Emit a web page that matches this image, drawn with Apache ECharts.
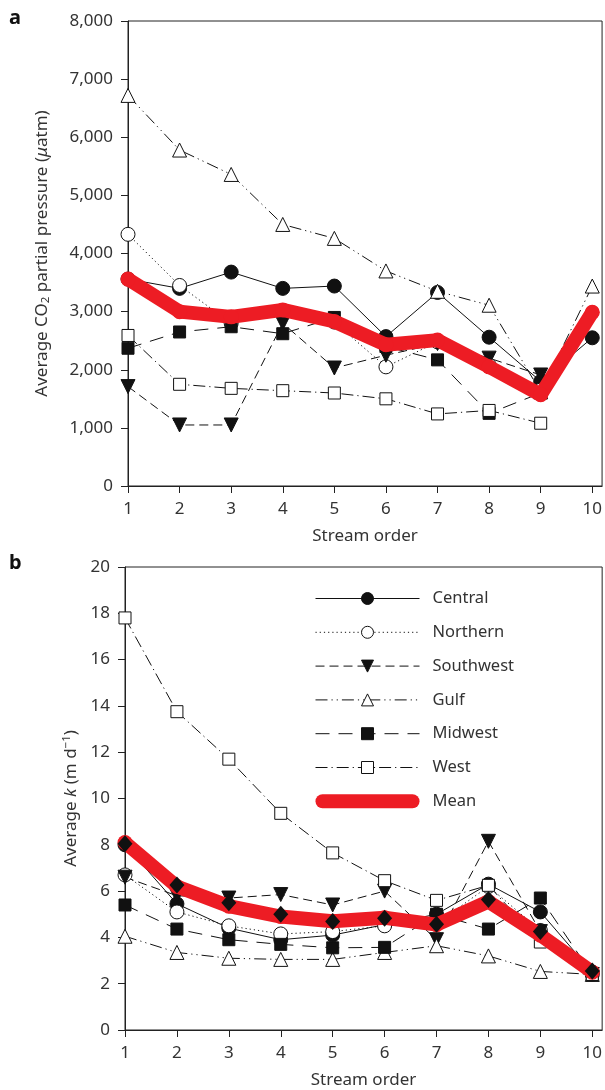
<!DOCTYPE html>
<html>
<head>
<meta charset="utf-8">
<script src="https://cdn.jsdelivr.net/npm/echarts@6/dist/echarts.min.js"></script>
<style>
html,body{margin:0;padding:0;background:#fff;}
#chart{width:605px;height:1090px;}
</style>
</head>
<body>
<div id="chart"></div>
<script>
// Stream orders (x categories)
const orders = [1, 2, 3, 4, 5, 6, 7, 8, 9, 10];
const regionNames = ['Central', 'Northern', 'Southwest', 'Gulf', 'Midwest', 'West'];

// Panel a: average CO2 partial pressure (µatm)
const co2Central   = [3560, 3400, 3680, 3400, 3440, 2570, 3330, 2560, 1800, 2550];
const co2Northern  = [4330, 3450, 2800, 2980, 2820, 2050, 2480, 2080, 1650, null];
const co2Southwest = [1710, 1050, 1050, 2800, 2030, 2250, 2450, 2200, 1910, null];
const co2Gulf      = [6720, 5780, 5360, 4500, 4260, 3700, 3350, 3110, 1620, 3440];
const co2Midwest   = [2370, 2650, 2740, 2620, 2900, 2400, 2170, 1250, 1600, null];
const co2West      = [2590, 1750, 1680, 1640, 1600, 1500, 1240, 1300, 1080, null];
const co2Mean      = [3560, 3000, 2910, 3030, 2830, 2430, 2510, 2050, 1570, 2990];
const co2Ticks     = [0, 1000, 2000, 3000, 4000, 5000, 6000, 7000, 8000];

// Panel b: average gas transfer velocity k (m d-1)
const kCentral   = [8.0, 5.45, 4.4, 3.9, 4.1, 4.55, 5.0, 6.3, 5.1, 2.5];
const kNorthern  = [6.7, 5.1, 4.5, 4.15, 4.25, 4.5, 4.6, 6.2, 4.3, 2.4];
const kSouthwest = [6.6, 5.8, 5.7, 5.85, 5.4, 6.0, 3.9, 8.15, 4.25, 2.4];
const kGulf      = [4.05, 3.35, 3.1, 3.05, 3.05, 3.35, 3.64, 3.2, 2.53, 2.4];
const kMidwest   = [5.4, 4.36, 3.9, 3.7, 3.55, 3.57, 5.0, 4.36, 5.7, 2.4];
const kWest      = [17.8, 13.75, 11.7, 9.36, 7.65, 6.45, 5.6, 6.25, 3.8, 2.4];
const kMean      = [8.1, 6.2, 5.35, 4.9, 4.7, 4.85, 4.55, 5.55, 4.1, 2.5];
const kDiamond   = [8.05, 6.26, 5.5, 5.0, 4.69, 4.83, 4.57, 5.64, 4.26, 2.55];
const kTicks     = [0, 2, 4, 6, 8, 10, 12, 14, 16, 18, 20];

const FONT = 'Noto Sans';
const TXT = '#333';
const AX = '#222';
const RED = '#ed1c24';

const styles = {
  Central:   {symbol: 'circle',   rotate: 0,   size: 14, fill: '#111', dash: 'solid'},
  Northern:  {symbol: 'circle',   rotate: 0,   size: 14, fill: '#fff', dash: [1.2, 3]},
  Southwest: {symbol: 'triangle', rotate: 180, size: 14, fill: '#111', dash: [9, 5]},
  Gulf:      {symbol: 'triangle', rotate: 0,   size: 14, fill: '#fff', dash: [12, 4, 1.2, 4, 1.2, 4]},
  Midwest:   {symbol: 'rect',     rotate: 0,   size: 12, fill: '#111', dash: [14, 9]},
  West:      {symbol: 'rect',     rotate: 0,   size: 12, fill: '#fff', dash: [12, 4, 1.2, 4]}
};

function pairs(vals) { return orders.map((o, i) => [o, vals[i]]); }

function regionSeries(name, vals, idx) {
  const s = styles[name];
  return {
    name: name, type: 'line', xAxisIndex: idx, yAxisIndex: idx,
    data: pairs(vals), connectNulls: false, clip: false,
    symbol: s.symbol, symbolRotate: s.rotate, symbolSize: s.size,
    showAllSymbol: true,
    lineStyle: {color: '#111', width: 1, type: s.dash},
    itemStyle: {color: s.fill, borderColor: '#111', borderWidth: 1},
    emphasis: {disabled: true}, z: 2
  };
}

function meanSeries(vals, idx) {
  return {
    name: 'Mean', type: 'line', xAxisIndex: idx, yAxisIndex: idx,
    data: pairs(vals), clip: false,
    symbol: 'circle', symbolSize: 15, showSymbol: true, showAllSymbol: true,
    lineStyle: {color: RED, width: 14, cap: 'round', join: 'round'},
    itemStyle: {color: RED, borderWidth: 0},
    emphasis: {disabled: true}, z: 3
  };
}

const panelA = [co2Central, co2Northern, co2Southwest, co2Gulf, co2Midwest, co2West];
const panelB = [kCentral, kNorthern, kSouthwest, kGulf, kMidwest, kWest];

const series = [];
regionNames.forEach((n, i) => series.push(regionSeries(n, panelA[i], 0)));
series.push(meanSeries(co2Mean, 0));
regionNames.forEach((n, i) => series.push(regionSeries(n, panelB[i], 1)));
series.push(meanSeries(kMean, 1));
series.push({
  name: 'k points', type: 'line', xAxisIndex: 1, yAxisIndex: 1,
  data: pairs(kDiamond), lineStyle: {width: 0, opacity: 0}, clip: false,
  symbol: 'diamond', symbolSize: [15, 17],
  itemStyle: {color: '#111'}, emphasis: {disabled: true}, z: 4
});

function xAxis(idx) {
  return {
    type: 'value', gridIndex: idx, min: 1, max: 10.19,
    name: 'Stream order', nameLocation: 'middle', nameGap: 42,
    nameTextStyle: {fontFamily: FONT, fontSize: 17, color: TXT},
    axisLine: {show: true, lineStyle: {color: AX, width: 1}},
    axisTick: {show: true, inside: false, length: 7, customValues: orders, lineStyle: {color: AX}},
    axisLabel: {customValues: orders, margin: 15, fontFamily: FONT, fontSize: 17, color: TXT},
    splitLine: {show: false}
  };
}

const option = {
  animation: false,
  backgroundColor: '#fff',
  textStyle: {fontFamily: FONT},
  grid: [
    {left: 128, right: 2, top: 21, height: 465, show: true, borderColor: AX, borderWidth: 1},
    {left: 125, right: 2, top: 567, height: 466, show: true, borderColor: AX, borderWidth: 1}
  ],
  xAxis: [xAxis(0), xAxis(1)],
  yAxis: [
    {
      type: 'value', gridIndex: 0, min: 0, max: 8000, interval: 1000,
      name: 'Average CO{sub|2} partial pressure ({it|μ}atm)', nameLocation: 'middle', nameGap: 76,
      nameTextStyle: {fontFamily: FONT, fontSize: 17, color: TXT,
        rich: {sub: {fontFamily: FONT, fontSize: 11.5, color: TXT, padding: [8, 0, 0, 0]},
               it: {fontFamily: FONT, fontSize: 17, color: TXT, fontStyle: 'italic'}}},
      axisLine: {show: true, lineStyle: {color: AX}},
      axisTick: {show: true, length: 7, customValues: co2Ticks, lineStyle: {color: AX}},
      axisLabel: {customValues: co2Ticks, margin: 15, fontFamily: FONT, fontSize: 17, color: TXT,
        formatter: v => v.toLocaleString('en-US')},
      splitLine: {show: false}
    },
    {
      type: 'value', gridIndex: 1, min: 0, max: 20, interval: 2,
      name: 'Average {it|k} (m d{sup|−1})', nameLocation: 'middle', nameGap: 40,
      nameTextStyle: {fontFamily: FONT, fontSize: 17, color: TXT,
        rich: {sup: {fontFamily: FONT, fontSize: 11.5, color: TXT, padding: [0, 0, 8, 0]},
               it: {fontFamily: FONT, fontSize: 17, color: TXT, fontStyle: 'italic'}}},
      axisLine: {show: true, lineStyle: {color: AX}},
      axisTick: {show: true, length: 7, customValues: kTicks, lineStyle: {color: AX}},
      axisLabel: {customValues: kTicks, margin: 15, fontFamily: FONT, fontSize: 17, color: TXT},
      splitLine: {show: false}
    }
  ],
  legend: {
    orient: 'vertical', left: 315, top: 590, padding: 0,
    itemWidth: 104, itemHeight: 15, itemGap: 16.8,
    selectedMode: false,
    textStyle: {fontFamily: FONT, fontSize: 16.5, color: TXT, padding: [0, 0, 0, 8], lineHeight: 16},
    lineStyle: {width: 1},
    itemStyle: {borderWidth: 1},
    data: regionNames.concat([{name: 'Mean', icon: 'path://M7,0 L97,0 A7,7 0 0 1 97,14 L7,14 A7,7 0 0 1 7,0 Z', itemStyle: {color: RED, borderWidth: 0}}])
  },
  graphic: [
    {type: 'text', left: 9, top: 8, style: {text: 'a', fontFamily: FONT, fontSize: 20, fontWeight: 'bold', fill: '#111'}},
    {type: 'text', left: 9, top: 553, style: {text: 'b', fontFamily: FONT, fontSize: 20, fontWeight: 'bold', fill: '#111'}}
  ],
  series: series
};

const chart = echarts.init(document.getElementById('chart'), null, {renderer: 'canvas'});
chart.setOption(option);
</script>
</body>
</html>
